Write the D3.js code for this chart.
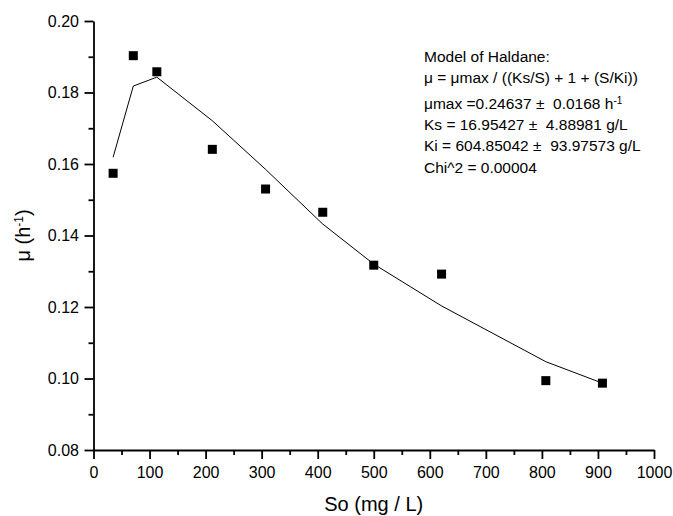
<!DOCTYPE html>
<html>
<head>
<meta charset="utf-8">
<script src="https://cdn.jsdelivr.net/npm/d3@7"></script>
<style>
  body { margin: 0; background: #fff; }
  svg text { font-family: Arial, "Liberation Sans", sans-serif; fill: #000; white-space: pre; }
</style>
</head>
<body>
<div id="chart"></div>
<script>
// Data
const substrate = [35, 71, 113, 212, 307, 409, 500, 621, 807, 908];
const muObserved = [0.1574, 0.1903, 0.1858, 0.1641, 0.1530, 0.1465, 0.1317, 0.1292, 0.0994, 0.0987];
const muModel = [0.1619, 0.1818, 0.1843, 0.1721, 0.1585, 0.1432, 0.1320, 0.1203, 0.1047, 0.0987];
const xTicks = [0, 100, 200, 300, 400, 500, 600, 700, 800, 900, 1000];
const yTicks = [0.08, 0.10, 0.12, 0.14, 0.16, 0.18, 0.20];

const W = 673, H = 516;
const margin = { top: 21, right: 19, bottom: 66, left: 93.5 };
const width = W - margin.left - margin.right,
      height = H - margin.top - margin.bottom;

const svg = d3.select("#chart").append("svg")
    .attr("width", W)
    .attr("height", H);

const g = svg.append("g")
    .attr("transform", `translate(${margin.left},${margin.top})`);

const x = d3.scaleLinear().domain([0, 1000]).range([0, width]);
const y = d3.scaleLinear().domain([0.08, 0.20]).range([height, 0]);

// minor ticks
g.append("g")
    .attr("transform", `translate(0,${height})`)
    .call(d3.axisBottom(x).tickValues(d3.range(50, 1000, 100)).tickSize(5).tickFormat(""))
    .call(a => a.select(".domain").remove())
    .selectAll("line").attr("stroke-width", 1.8);
g.append("g")
    .call(d3.axisLeft(y).tickValues(d3.range(0.09, 0.20, 0.02)).tickSize(5).tickFormat(""))
    .call(a => a.select(".domain").remove())
    .selectAll("line").attr("stroke-width", 1.8);

// major axes
const xAxis = g.append("g")
    .attr("transform", `translate(0,${height})`)
    .call(d3.axisBottom(x).tickValues(xTicks).tickSize(9).tickSizeOuter(0).tickPadding(7.5).tickFormat(d3.format("d")));
const yAxis = g.append("g")
    .call(d3.axisLeft(y).tickValues(yTicks).tickSize(9).tickSizeOuter(0).tickPadding(5.5).tickFormat(d3.format(".2f")));

[xAxis, yAxis].forEach(a => {
    a.select(".domain").attr("stroke-width", 1.8);
    a.selectAll("line").attr("stroke-width", 1.8);
    a.selectAll("text").style("font-size", "16px");
});

// fitted curve
const line = d3.line()
    .x((d, i) => x(substrate[i]))
    .y(d => y(d));
g.append("path")
    .datum(muModel)
    .attr("fill", "none")
    .attr("stroke", "#000")
    .attr("stroke-width", 1)
    .attr("d", line);

// observed points
const s = 9;
g.selectAll("rect.pt")
    .data(muObserved)
    .enter().append("rect")
    .attr("class", "pt")
    .attr("x", (d, i) => x(substrate[i]) - s / 2)
    .attr("y", d => y(d) - s / 2)
    .attr("width", s)
    .attr("height", s)
    .attr("fill", "#000");

// axis titles
svg.append("text")
    .attr("x", margin.left + width / 2)
    .attr("y", 510.5)
    .attr("text-anchor", "middle")
    .style("font-size", "20px")
    .text("So (mg / L)");

const yt = svg.append("text")
    .attr("transform", `translate(29.5,${margin.top + height / 2}) rotate(-90)`)
    .attr("text-anchor", "middle")
    .style("font-size", "20px");
yt.append("tspan").text("μ (h");
yt.append("tspan").attr("baseline-shift", "super").style("font-size", "12px").text("-1");
yt.append("tspan").text(")");

// model annotation
const note = svg.append("g").attr("transform", "translate(424,0)").style("font-size", "15.5px");
note.append("text").attr("y", 62).text("Model of Haldane:");
note.append("text").attr("y", 83).text("μ = μmax / ((Ks/S) + 1 + (S/Ki))");
const t3 = note.append("text").attr("y", 109);
t3.append("tspan").text("μmax =0.24637 ±  0.0168 h");
t3.append("tspan").attr("baseline-shift", "super").style("font-size", "10px").text("-1");
note.append("text").attr("y", 130).text("Ks = 16.95427 ±  4.88981 g/L");
note.append("text").attr("y", 151).text("Ki = 604.85042 ±  93.97573 g/L");
note.append("text").attr("y", 172.5).text("Chi^2 = 0.00004");
</script>
</body>
</html>
